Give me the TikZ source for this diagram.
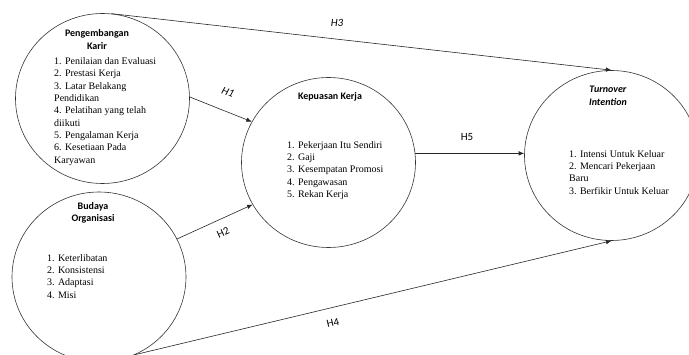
\documentclass[tikz,border=0pt]{standalone}
\usepackage{fontspec}
\setmainfont{Liberation Serif}
\newfontfamily\calib{Carlito}
\usetikzlibrary{shapes.geometric,arrows.meta}
\begin{document}
\begin{tikzpicture}[x=1pt,y=-1pt,
  circ/.style={ellipse,draw=black!80,line width=0.6pt,minimum width=174pt,minimum height=170pt,inner sep=0pt},
  head/.style={font=\calib\bfseries\fontsize{10}{12.5}\selectfont,align=center,inner sep=0pt},
  items/.style={font=\fontsize{10}{12.3}\selectfont,align=left,anchor=north west,inner sep=0pt},
  conn/.style={draw=black!85,line width=0.6pt,-{Latex[length=5.5pt,width=4.5pt]}},
  hlab/.style={font=\calib\fontsize{11}{13}\selectfont,inner sep=0pt},
  hlabit/.style={font=\calib\itshape\fontsize{11}{13}\selectfont,inner sep=0pt}
]
\useasboundingbox (0,0) rectangle (689,355);
\clip (0,0) rectangle (689,355);

\node[circ] (c1) at (102.5,98.5) {};
\node[circ] (c2) at (99,277) {};
\node[circ] (c3) at (328.5,162.5) {};
\node[circ] (c4) at (611.5,155.5) {};

\node[head] (t1) at (97,39.5) {Pengembangan\\Karir};
\node[items] (l1) at (54,57.5) {1. Penilaian dan Evaluasi\\2. Prestasi Kerja\\3. Latar Belakang\\Pendidikan\\4. Pelatihan yang telah\\diikuti\\5. Pengalaman Kerja\\6. Kesetiaan Pada\\Karyawan};

\node[head] (t2) at (93,213) {Budaya\\Organisasi};
\node[items] (l2) at (47,254) {1. Keterlibatan\\2. Konsistensi\\3. Adaptasi\\4. Misi};

\node[head] (t3) at (330,97) {Kepuasan Kerja};
\node[items] (l3) at (287,141) {1. Pekerjaan Itu Sendiri\\2. Gaji\\3. Kesempatan Promosi\\4. Pengawasan\\5. Rekan Kerja};

\node[head,font=\calib\bfseries\itshape\fontsize{10}{12.5}\selectfont] (t4) at (608,96) {Turnover\\Intention};
\node[items] (l4) at (569,150) {1. Intensi Untuk Keluar\\2. Mencari Pekerjaan\\Baru\\3. Berfikir Untuk Keluar};

\draw[conn] (c1.84) -- (c4.north);
\draw[conn] (c1.1) -- (c3.152);
\draw[conn] (c2.26) -- (c3.209);
\draw[conn] (c2.295) -- (c4.south);
\draw[conn] (c3.6) -- (c3.6 -| c4.west);

\node[hlabit] (h3) at (337,23) {H3};
\node[hlabit,rotate=-21] (h1) at (228,92) {H1};
\node[hlab,rotate=24] (h2) at (223,233) {H2};
\node[hlab,rotate=13] (h4) at (333,323) {H4};
\node[hlab] (h5) at (467,137) {H5};
\end{tikzpicture}
\end{document}
